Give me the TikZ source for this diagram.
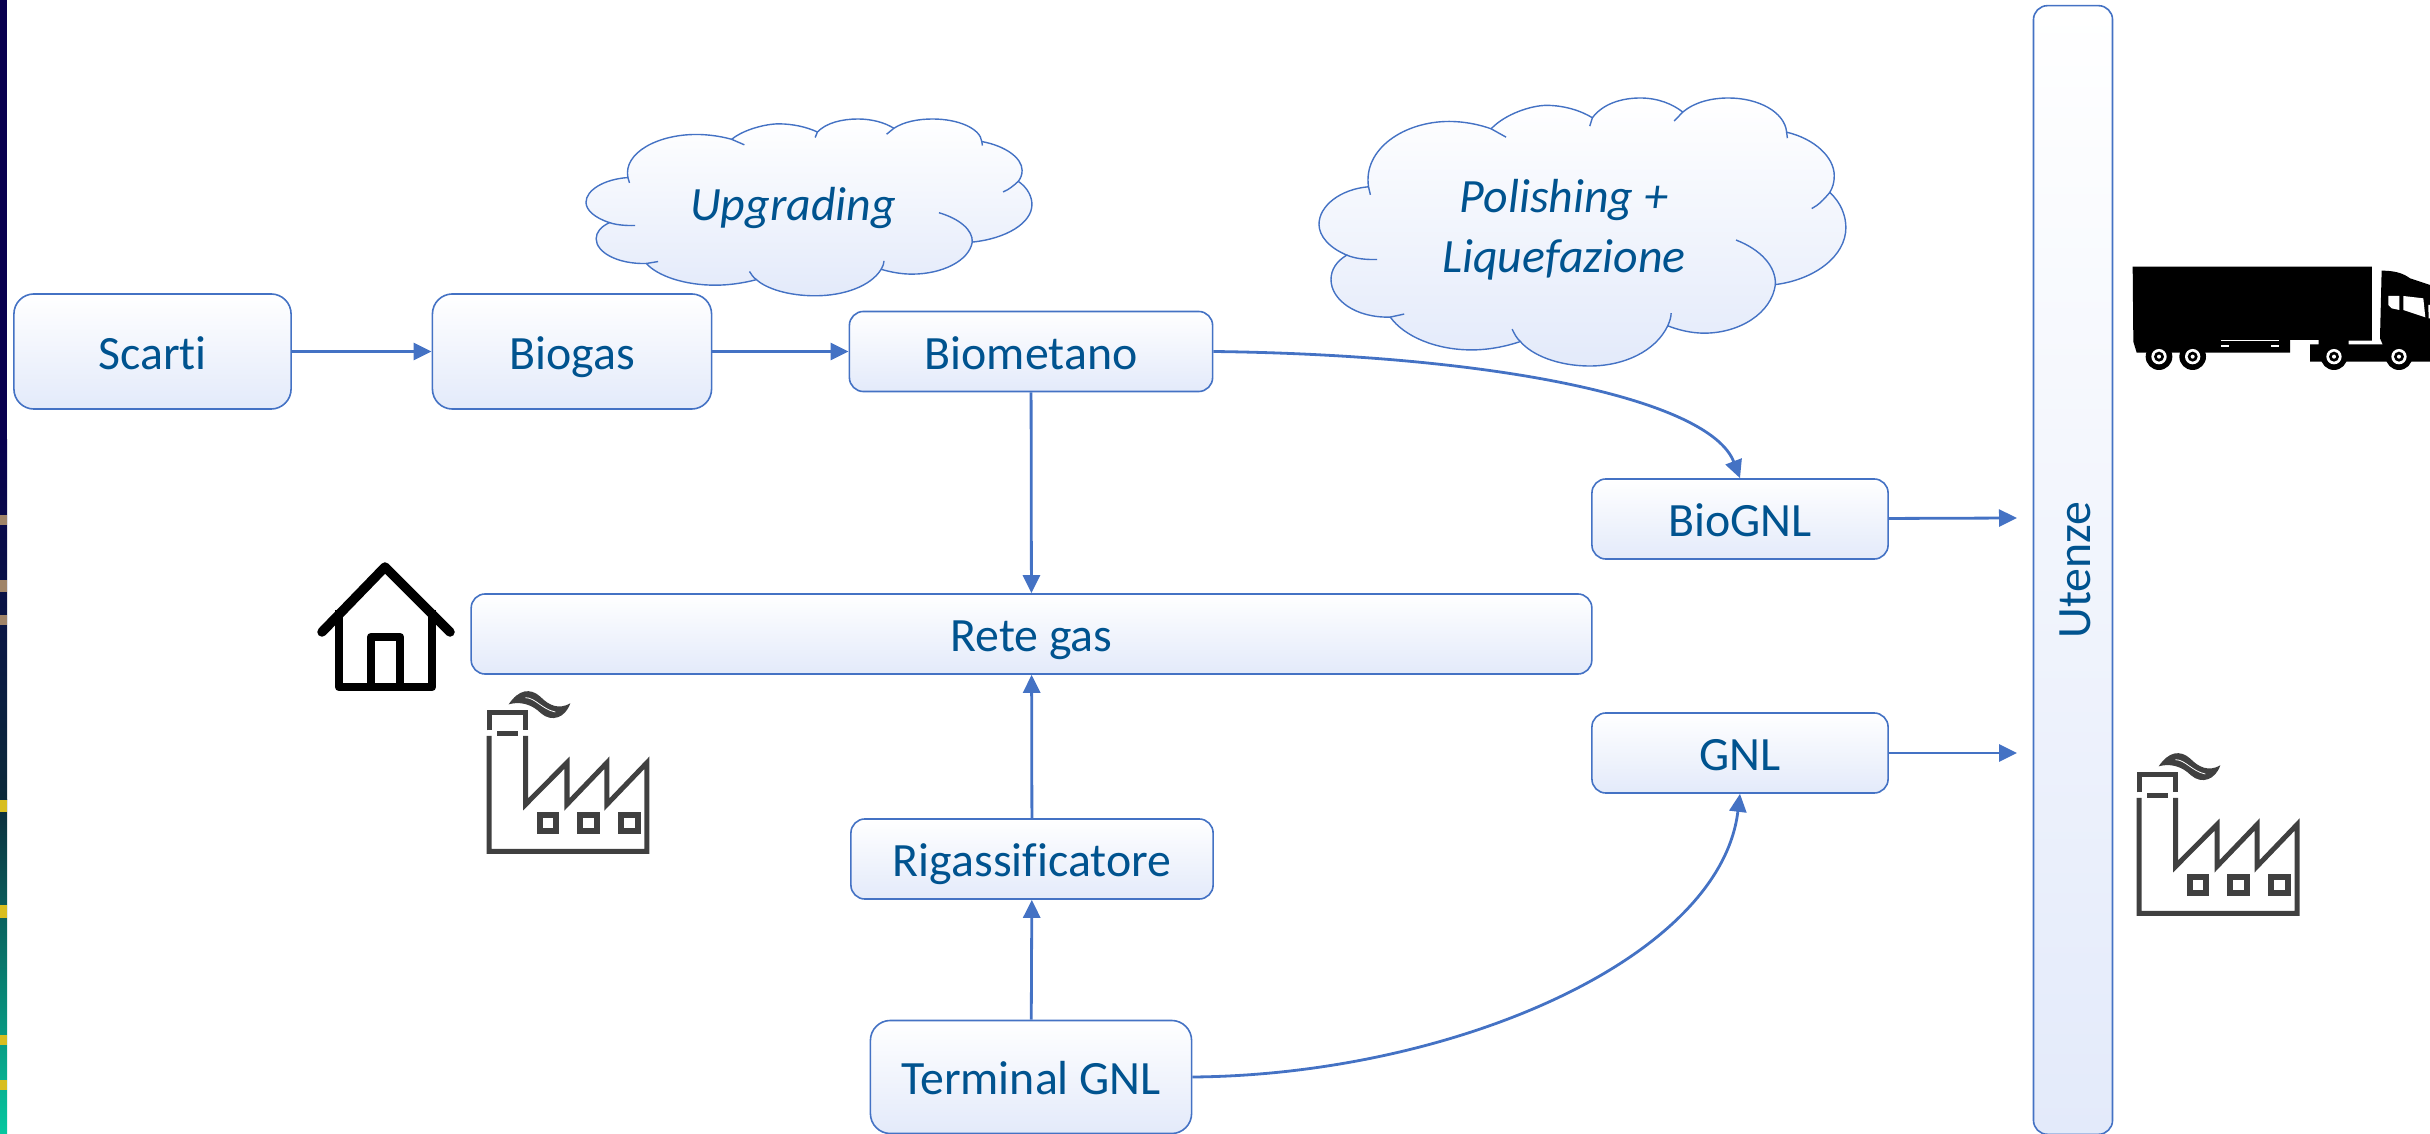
\documentclass[tikz,border=0pt]{standalone}
\usepackage{fontspec}
\setmainfont[RawFeature=-liga]{Carlito}
\usetikzlibrary{arrows.meta,calc}
\definecolor{boxline}{HTML}{4472C4}
\definecolor{boxfill}{HTML}{E3EAFA}
\definecolor{boxtext}{HTML}{00538F}
\definecolor{icongrey}{HTML}{404040}
\definecolor{stripnavy}{HTML}{08004F}
\definecolor{stripdark}{HTML}{0B2A3A}
\definecolor{stripteal}{HTML}{06C8A0}
\definecolor{striptan}{HTML}{A08468}
\definecolor{stripyellow}{HTML}{D8BE20}
\tikzset{
  flusso/.style={draw=boxline,line width=.028cm,-{Triangle[length=.18cm,width=.17cm]}},
  blocco/.style={draw=boxline,line width=.016cm,top color=white,bottom color=boxfill,
    rounded corners=.14cm,text=boxtext,font=\fontsize{13.6}{17}\selectfont,
    text height=.45cm,text depth=.1cm,inner sep=0pt},
  bloccone/.style={blocco,rounded corners=.2cm},
  nuvola/.style={draw=boxline,line width=.014cm},
  scritta/.style={text=boxtext,font=\fontsize{13.6}{17}\selectfont\itshape,align=center,inner sep=0pt},
  tratto/.style={draw=icongrey,line width=.05cm},
}
\begin{document}
\begin{tikzpicture}[x=.01cm,y=-.01cm]
  \useasboundingbox (0,0) rectangle (2430,1134);
  % striscia a sinistra
  \fill[stripnavy] (0,0) rectangle (7,440);
  \shade[top color=stripnavy,bottom color=stripdark] (0,440) rectangle (7,800);
  \shade[top color=stripdark,bottom color=stripteal] (0,800) rectangle (7,1134);
  \foreach \ya/\yb/\col in {515/525/striptan,580/592/striptan,615/625/striptan,
    800/812/stripyellow,905/918/stripyellow,
    1035/1045/stripyellow,1080/1090/stripyellow}{
      \fill[\col] (0,\ya) rectangle (7,\yb);
    }
  % nuvole
  \foreach \cx/\cy/\sx/\sy in {586/119/.3174/.221,1319/98/.375/.335}{
    \begin{scope}[shift={(\cx,\cy)},xscale=\sx,yscale=\sy,shift={(-73,-58)}]
      \path[nuvola,top color=white,bottom color=boxfill] (205,323)
        .. controls (190,210) and (300,128) .. (420,128) .. controls (460,128) and (500,137) .. (532,150)
        .. controls (570,105) and (640,80) .. (680,80) .. controls (725,80) and (770,95) .. (802,117)
        .. controls (830,75) and (880,58) .. (930,58) .. controls (975,58) and (1015,75) .. (1043,100)
        .. controls (1075,70) and (1120,58) .. (1165,58) .. controls (1245,58) and (1315,100) .. (1320,160)
        .. controls (1395,180) and (1447,235) .. (1447,290) .. controls (1447,310) and (1443,325) .. (1435,340)
        .. controls (1465,370) and (1478,410) .. (1478,445) .. controls (1478,530) and (1395,600) .. (1290,615)
        .. controls (1280,700) and (1195,760) .. (1100,760) .. controls (1065,760) and (1030,750) .. (1003,738)
        .. controls (970,815) and (885,858) .. (795,858) .. controls (710,858) and (640,825) .. (610,785)
        .. controls (570,800) and (525,810) .. (480,810) .. controls (385,810) and (300,770) .. (263,712)
        .. controls (170,715) and (105,660) .. (105,600) .. controls (105,570) and (120,545) .. (147,527)
        .. controls (100,505) and (73,470) .. (73,435) .. controls (73,380) and (130,330) .. (205,323) -- cycle;
      \draw[nuvola] (532,150) -- (572,175);
      \draw[nuvola] (802,117) -- (795,142);
      \draw[nuvola] (1043,100) -- (1020,127);
      \draw[nuvola] (1320,160) -- (1322,178);
      \draw[nuvola] (1435,340) .. controls (1420,360) and (1405,378) .. (1387,388);
      \draw[nuvola] (1185,482) .. controls (1250,510) and (1292,560) .. (1290,615);
      \draw[nuvola] (1003,738) .. controls (1008,725) and (1012,712) .. (1012,700);
      \draw[nuvola] (610,785) .. controls (600,775) and (594,762) .. (588,748);
      \draw[nuvola] (263,712) -- (300,703);
      \draw[nuvola] (147,527) .. controls (170,538) and (200,541) .. (228,540);
      \draw[nuvola] (205,323) -- (210,347);
    \end{scope}
  }
  \node[scritta] (upgrading) at (793,208) {Upgrading};
  \node[scritta] (polishing) at (1564,230) {Polishing +\\Liquefazione};
  % blocchi
  \node[bloccone,minimum width=2.77cm,minimum height=1.15cm] (scarti) at (152.5,351.5) {Scarti};
  \node[bloccone,minimum width=2.79cm,minimum height=1.15cm] (biogas) at (572,351.5) {Biogas};
  \node[blocco,minimum width=3.63cm,minimum height=.8cm] (biometano) at (1031,351.5) {Biometano};
  \node[blocco,minimum width=11.2cm,minimum height=.8cm] (retegas) at (1031.5,634) {Rete gas};
  \node[blocco,minimum width=2.96cm,minimum height=.8cm] (biognl) at (1740,519) {BioGNL};
  \node[blocco,minimum width=2.96cm,minimum height=.8cm] (gnl) at (1740,753) {GNL};
  \node[blocco,minimum width=3.62cm,minimum height=.8cm] (rigass) at (1032,859) {Rigassificatore};
  \node[bloccone,minimum width=3.21cm,minimum height=1.13cm] (terminal) at (1031,1077) {Terminal GNL};
  \node[blocco,rotate=90,minimum width=11.28cm,minimum height=.79cm] (utenze) at (2073,570) {Utenze};
  \coordinate (inbio) at (2017,518);
  \coordinate (ingnl) at (2017,753);
  % frecce
  \draw[flusso] (scarti) -- (biogas);
  \draw[flusso] (biogas) -- (biometano);
  \draw[flusso] (biometano) -- (retegas);
  \draw[flusso] (rigass) -- (retegas);
  \draw[flusso] (terminal) -- (rigass);
  \draw[flusso] (biometano.east) .. controls (1500,355) and (1710,400) .. (biognl.north);
  \draw[flusso] (terminal.east) .. controls (1450,1075) and (1720,960) .. (gnl.south);
  \draw[flusso] (biognl) -- (inbio);
  \draw[flusso] (gnl) -- (ingnl);
  % casa
  \draw[line width=.085cm,line join=round] (339,610) -- (339,687) -- (432,687) -- (432,610);
  \draw[line width=.085cm,line join=round] (371,687) -- (371,637) -- (400,637) -- (400,687);
  \draw[line width=.095cm,line cap=round,line join=round] (322,632) -- (385,567) -- (450,632);
  % fabbriche
  \foreach \fx/\fy in {487/691,2137/753}{
    \begin{scope}[shift={(\fx,\fy)},scale=.3333,shift={(-110,-65)}]
      \draw[tratto] (116,183) -- (116,129) -- (226,129) -- (226,183);
      \draw[tratto] (140,192) -- (202,192);
      \draw[tratto,line join=miter] (116,200) -- (116,546) -- (590,546) -- (590,280)
        -- (470,405) -- (470,280) -- (350,405) -- (350,280) -- (226,405) -- (226,200);
      \foreach \wx in {268,390,512}{
        \draw[tratto,line width=.06cm] (\wx,436) rectangle ++(50,50);
      }
      \fill[icongrey] (175,105) .. controls (205,60) and (240,55) .. (270,82)
        .. controls (295,108) and (325,122) .. (360,102)
        .. controls (345,145) and (305,160) .. (272,132)
        .. controls (245,105) and (210,95) .. (175,105);
      \draw[white,line width=.008cm] (225,85) .. controls (255,85) and (275,120) .. (315,128);
    \end{scope}
  }
  % camion
  \begin{scope}[shift={(2080,230)},scale=.3333]
    \fill (158,110) -- (876,110) -- (876,332) -- (806,332) -- (806,343) -- (908,343) -- (900,325) -- (905,122)
      .. controls (945,122) and (970,130) .. (990,145) -- (1050,165) -- (1050,395) -- (690,395) -- (690,343)
      -- (716,343) -- (716,330) -- (630,330) -- (630,368) -- (170,368) -- (160,335) -- cycle;
    \fill[white] (925,198) -- (958,198) -- (958,240) -- (935,235) -- (925,225) -- cycle;
    \fill[white] (970,198) -- (1030,205) -- (1036,262) -- (970,240) -- cycle;
    \fill[white] (1045,225) -- (1050,225) -- (1050,265) -- (1046,265) -- cycle;
    \fill[white] (424,330) rectangle (597,334);
    \fill[white] (424,345) rectangle (447,352);
    \fill[white] (572,345) rectangle (597,352);
    \foreach \rx in {237,338,762,957}{
      \fill (\rx,380) circle (40);
      \fill[white] (\rx,380) circle (23);
      \fill (\rx,380) circle (15);
      \fill[white] (\rx,380) circle (6);
    }
  \end{scope}
\end{tikzpicture}
\end{document}
